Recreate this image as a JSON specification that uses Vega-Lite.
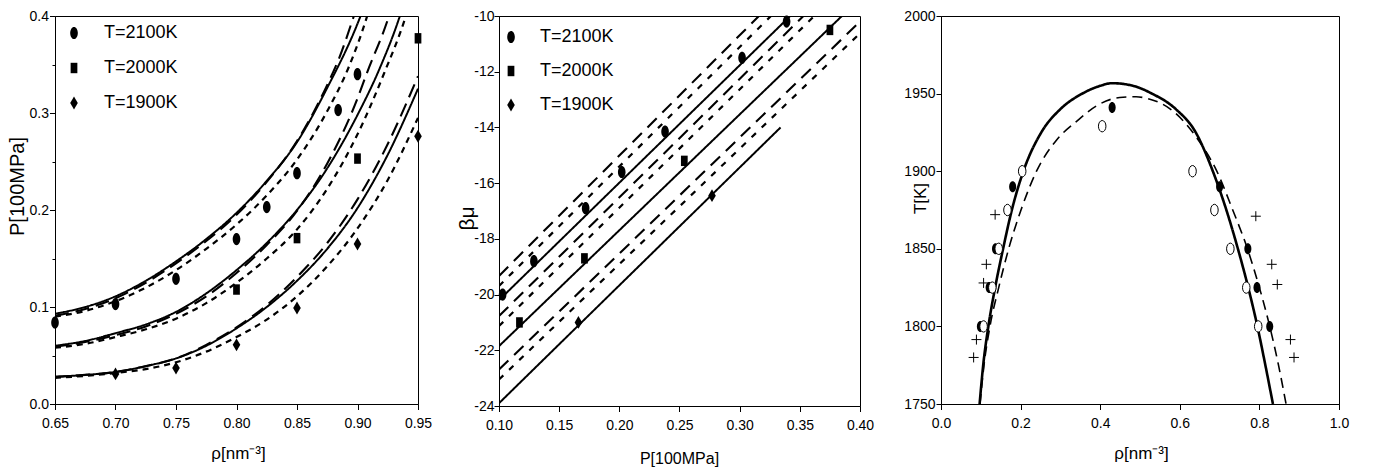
{
  "$schema": "https://vega.github.io/schema/vega-lite/v6.json",
  "background": "white",
  "padding": {"left": 6, "top": 8, "right": 5, "bottom": 0},
  "config": {
    "view": {"stroke": "black", "strokeWidth": 1},
    "axis": {"grid": false, "domainColor": "black", "tickColor": "black", "labelColor": "black", "titleColor": "black",
      "labelFont": "Liberation Sans, Arial, sans-serif", "labelFontSize": 14,
      "titleFont": "Liberation Sans, Arial, sans-serif", "titleFontSize": 18, "titleFontWeight": "normal",
      "domainWidth": 1, "tickWidth": 1, "labelFlush": false, "labelOverlap": false, "titleAlign": "center", "titleBaseline": "middle"}
  },
  "datasets": {
    "p1lines": [
      {"T":"2100","s":"solid","x":0.65,"y":0.093},{"T":"2100","s":"solid","x":0.675,"y":0.100},{"T":"2100","s":"solid","x":0.70,"y":0.111},{"T":"2100","s":"solid","x":0.725,"y":0.127},{"T":"2100","s":"solid","x":0.75,"y":0.147},{"T":"2100","s":"solid","x":0.775,"y":0.170},{"T":"2100","s":"solid","x":0.80,"y":0.197},{"T":"2100","s":"solid","x":0.825,"y":0.230},{"T":"2100","s":"solid","x":0.85,"y":0.270},{"T":"2100","s":"solid","x":0.875,"y":0.326},{"T":"2100","s":"solid","x":0.90,"y":0.392},{"T":"2100","s":"solid","x":0.91,"y":0.425},
      {"T":"2100","s":"long","x":0.65,"y":0.091},{"T":"2100","s":"long","x":0.675,"y":0.098},{"T":"2100","s":"long","x":0.70,"y":0.109},{"T":"2100","s":"long","x":0.725,"y":0.125},{"T":"2100","s":"long","x":0.75,"y":0.145},{"T":"2100","s":"long","x":0.775,"y":0.168},{"T":"2100","s":"long","x":0.80,"y":0.195},{"T":"2100","s":"long","x":0.825,"y":0.229},{"T":"2100","s":"long","x":0.85,"y":0.271},{"T":"2100","s":"long","x":0.875,"y":0.329},{"T":"2100","s":"long","x":0.885,"y":0.357},{"T":"2100","s":"long","x":0.897,"y":0.40},{"T":"2100","s":"long","x":0.905,"y":0.43},
      {"T":"2100","s":"short","x":0.65,"y":0.090},{"T":"2100","s":"short","x":0.675,"y":0.096},{"T":"2100","s":"short","x":0.70,"y":0.106},{"T":"2100","s":"short","x":0.725,"y":0.120},{"T":"2100","s":"short","x":0.75,"y":0.138},{"T":"2100","s":"short","x":0.775,"y":0.160},{"T":"2100","s":"short","x":0.80,"y":0.185},{"T":"2100","s":"short","x":0.825,"y":0.215},{"T":"2100","s":"short","x":0.85,"y":0.252},{"T":"2100","s":"short","x":0.875,"y":0.302},{"T":"2100","s":"short","x":0.893,"y":0.348},{"T":"2100","s":"short","x":0.908,"y":0.40},{"T":"2100","s":"short","x":0.915,"y":0.43},
      {"T":"2000","s":"solid","x":0.65,"y":0.060},{"T":"2000","s":"solid","x":0.675,"y":0.065},{"T":"2000","s":"solid","x":0.70,"y":0.073},{"T":"2000","s":"solid","x":0.725,"y":0.082},{"T":"2000","s":"solid","x":0.75,"y":0.095},{"T":"2000","s":"solid","x":0.775,"y":0.114},{"T":"2000","s":"solid","x":0.80,"y":0.138},{"T":"2000","s":"solid","x":0.825,"y":0.166},{"T":"2000","s":"solid","x":0.85,"y":0.200},{"T":"2000","s":"solid","x":0.875,"y":0.243},{"T":"2000","s":"solid","x":0.90,"y":0.298},{"T":"2000","s":"solid","x":0.918,"y":0.345},{"T":"2000","s":"solid","x":0.935,"y":0.40},{"T":"2000","s":"solid","x":0.94,"y":0.42},
      {"T":"2000","s":"long","x":0.65,"y":0.059},{"T":"2000","s":"long","x":0.675,"y":0.064},{"T":"2000","s":"long","x":0.70,"y":0.071},{"T":"2000","s":"long","x":0.725,"y":0.080},{"T":"2000","s":"long","x":0.75,"y":0.093},{"T":"2000","s":"long","x":0.775,"y":0.111},{"T":"2000","s":"long","x":0.80,"y":0.135},{"T":"2000","s":"long","x":0.825,"y":0.164},{"T":"2000","s":"long","x":0.85,"y":0.199},{"T":"2000","s":"long","x":0.875,"y":0.248},{"T":"2000","s":"long","x":0.90,"y":0.315},{"T":"2000","s":"long","x":0.908,"y":0.342},{"T":"2000","s":"long","x":0.926,"y":0.40},{"T":"2000","s":"long","x":0.932,"y":0.425},
      {"T":"2000","s":"short","x":0.65,"y":0.058},{"T":"2000","s":"short","x":0.675,"y":0.062},{"T":"2000","s":"short","x":0.70,"y":0.069},{"T":"2000","s":"short","x":0.725,"y":0.077},{"T":"2000","s":"short","x":0.75,"y":0.088},{"T":"2000","s":"short","x":0.775,"y":0.104},{"T":"2000","s":"short","x":0.80,"y":0.125},{"T":"2000","s":"short","x":0.825,"y":0.150},{"T":"2000","s":"short","x":0.85,"y":0.180},{"T":"2000","s":"short","x":0.875,"y":0.222},{"T":"2000","s":"short","x":0.90,"y":0.278},{"T":"2000","s":"short","x":0.922,"y":0.341},{"T":"2000","s":"short","x":0.94,"y":0.40},{"T":"2000","s":"short","x":0.946,"y":0.425},
      {"T":"1900","s":"solid","x":0.65,"y":0.028},{"T":"1900","s":"solid","x":0.675,"y":0.030},{"T":"1900","s":"solid","x":0.70,"y":0.033},{"T":"1900","s":"solid","x":0.725,"y":0.039},{"T":"1900","s":"solid","x":0.75,"y":0.047},{"T":"1900","s":"solid","x":0.775,"y":0.060},{"T":"1900","s":"solid","x":0.80,"y":0.078},{"T":"1900","s":"solid","x":0.825,"y":0.100},{"T":"1900","s":"solid","x":0.85,"y":0.127},{"T":"1900","s":"solid","x":0.875,"y":0.160},{"T":"1900","s":"solid","x":0.90,"y":0.202},{"T":"1900","s":"solid","x":0.925,"y":0.257},{"T":"1900","s":"solid","x":0.95,"y":0.325},
      {"T":"1900","s":"long","x":0.65,"y":0.028},{"T":"1900","s":"long","x":0.675,"y":0.030},{"T":"1900","s":"long","x":0.70,"y":0.033},{"T":"1900","s":"long","x":0.725,"y":0.039},{"T":"1900","s":"long","x":0.75,"y":0.047},{"T":"1900","s":"long","x":0.775,"y":0.061},{"T":"1900","s":"long","x":0.80,"y":0.079},{"T":"1900","s":"long","x":0.825,"y":0.102},{"T":"1900","s":"long","x":0.85,"y":0.131},{"T":"1900","s":"long","x":0.875,"y":0.166},{"T":"1900","s":"long","x":0.90,"y":0.211},{"T":"1900","s":"long","x":0.925,"y":0.268},{"T":"1900","s":"long","x":0.95,"y":0.338},
      {"T":"1900","s":"short","x":0.65,"y":0.027},{"T":"1900","s":"short","x":0.675,"y":0.029},{"T":"1900","s":"short","x":0.70,"y":0.032},{"T":"1900","s":"short","x":0.725,"y":0.036},{"T":"1900","s":"short","x":0.75,"y":0.043},{"T":"1900","s":"short","x":0.775,"y":0.054},{"T":"1900","s":"short","x":0.80,"y":0.069},{"T":"1900","s":"short","x":0.825,"y":0.087},{"T":"1900","s":"short","x":0.85,"y":0.111},{"T":"1900","s":"short","x":0.875,"y":0.142},{"T":"1900","s":"short","x":0.90,"y":0.181},{"T":"1900","s":"short","x":0.925,"y":0.231},{"T":"1900","s":"short","x":0.95,"y":0.295}
    ],
    "p1pts": [
      {"T":"T=2100K","x":0.65,"y":0.084},{"T":"T=2100K","x":0.70,"y":0.103},{"T":"T=2100K","x":0.75,"y":0.129},{"T":"T=2100K","x":0.80,"y":0.170},{"T":"T=2100K","x":0.825,"y":0.203},{"T":"T=2100K","x":0.85,"y":0.238},{"T":"T=2100K","x":0.884,"y":0.303},{"T":"T=2100K","x":0.90,"y":0.340},
      {"T":"T=2000K","x":0.80,"y":0.118},{"T":"T=2000K","x":0.85,"y":0.171},{"T":"T=2000K","x":0.90,"y":0.253},{"T":"T=2000K","x":0.95,"y":0.377},
      {"T":"T=1900K","x":0.70,"y":0.031},{"T":"T=1900K","x":0.75,"y":0.037},{"T":"T=1900K","x":0.80,"y":0.061},{"T":"T=1900K","x":0.85,"y":0.099},{"T":"T=1900K","x":0.90,"y":0.165},{"T":"T=1900K","x":0.95,"y":0.276}
    ],
    "p2lines": [
      {"T":"2100","s":"solid","x":0.10,"y":-20.2},{"T":"2100","s":"solid","x":0.342,"y":-10.0},
      {"T":"2100","s":"long","x":0.10,"y":-19.33},{"T":"2100","s":"long","x":0.316,"y":-10.0},
      {"T":"2100","s":"short","x":0.10,"y":-19.69},{"T":"2100","s":"short","x":0.326,"y":-10.0},
      {"T":"2000","s":"solid","x":0.10,"y":-21.85},{"T":"2000","s":"solid","x":0.385,"y":-10.0},
      {"T":"2000","s":"long","x":0.10,"y":-20.77},{"T":"2000","s":"long","x":0.353,"y":-10.0},
      {"T":"2000","s":"short","x":0.10,"y":-21.13},{"T":"2000","s":"short","x":0.362,"y":-10.0},
      {"T":"1900","s":"solid","x":0.10,"y":-23.9},{"T":"1900","s":"solid","x":0.334,"y":-14.0},
      {"T":"1900","s":"long","x":0.10,"y":-22.69},{"T":"1900","s":"long","x":0.40,"y":-10.2},
      {"T":"1900","s":"short","x":0.10,"y":-23.05},{"T":"1900","s":"short","x":0.40,"y":-10.62}
    ],
    "p2pts": [
      {"T":"T=2100K","x":0.103,"y":-20.0},{"T":"T=2100K","x":0.129,"y":-18.8},{"T":"T=2100K","x":0.172,"y":-16.9},{"T":"T=2100K","x":0.202,"y":-15.6},{"T":"T=2100K","x":0.238,"y":-14.15},{"T":"T=2100K","x":0.302,"y":-11.5},{"T":"T=2100K","x":0.339,"y":-10.2},
      {"T":"T=2000K","x":0.117,"y":-21.0},{"T":"T=2000K","x":0.171,"y":-18.7},{"T":"T=2000K","x":0.254,"y":-15.2},{"T":"T=2000K","x":0.375,"y":-10.5},
      {"T":"T=1900K","x":0.166,"y":-21.0},{"T":"T=1900K","x":0.277,"y":-16.45}
    ],
    "p3lines": [
      {"s":"solid","x":0.097,"y":1750},{"s":"solid","x":0.106,"y":1775},{"s":"solid","x":0.119,"y":1800},{"s":"solid","x":0.136,"y":1825},{"s":"solid","x":0.156,"y":1850},{"s":"solid","x":0.178,"y":1875},{"s":"solid","x":0.207,"y":1900},{"s":"solid","x":0.252,"y":1925},{"s":"solid","x":0.300,"y":1940},{"s":"solid","x":0.355,"y":1950},{"s":"solid","x":0.40,"y":1955},{"s":"solid","x":0.43,"y":1956.7},{"s":"solid","x":0.48,"y":1955.2},{"s":"solid","x":0.53,"y":1950},{"s":"solid","x":0.59,"y":1940},{"s":"solid","x":0.64,"y":1925},{"s":"solid","x":0.683,"y":1900},{"s":"solid","x":0.717,"y":1875},{"s":"solid","x":0.746,"y":1850},{"s":"solid","x":0.772,"y":1825},{"s":"solid","x":0.795,"y":1800},{"s":"solid","x":0.815,"y":1775},{"s":"solid","x":0.834,"y":1750},
      {"s":"dash","x":0.098,"y":1750},{"s":"dash","x":0.108,"y":1775},{"s":"dash","x":0.123,"y":1800},{"s":"dash","x":0.145,"y":1825},{"s":"dash","x":0.170,"y":1850},{"s":"dash","x":0.201,"y":1875},{"s":"dash","x":0.240,"y":1900},{"s":"dash","x":0.29,"y":1920},{"s":"dash","x":0.34,"y":1932},{"s":"dash","x":0.39,"y":1942},{"s":"dash","x":0.449,"y":1947.5},{"s":"dash","x":0.49,"y":1948},{"s":"dash","x":0.516,"y":1947},{"s":"dash","x":0.584,"y":1938.5},{"s":"dash","x":0.643,"y":1921.4},{"s":"dash","x":0.693,"y":1900},{"s":"dash","x":0.733,"y":1875},{"s":"dash","x":0.770,"y":1850},{"s":"dash","x":0.800,"y":1825},{"s":"dash","x":0.826,"y":1800},{"s":"dash","x":0.848,"y":1775},{"s":"dash","x":0.867,"y":1750}
    ],
    "p3filled": [
      {"x":0.43,"y":1941},{"x":0.18,"y":1890},{"x":0.70,"y":1890},{"x":0.771,"y":1850},{"x":0.794,"y":1825},{"x":0.826,"y":1800},{"x":0.137,"y":1850},{"x":0.121,"y":1825},{"x":0.099,"y":1800}
    ],
    "p3open": [
      {"x":0.405,"y":1929},{"x":0.204,"y":1900},{"x":0.167,"y":1875},{"x":0.632,"y":1900},{"x":0.687,"y":1875},{"x":0.727,"y":1850},{"x":0.767,"y":1825},{"x":0.797,"y":1800},{"x":0.145,"y":1850},{"x":0.129,"y":1825},{"x":0.107,"y":1800}
    ],
    "p3plus": [
      {"x":0.136,"y":1872},{"x":0.114,"y":1840},{"x":0.107,"y":1828},{"x":0.089,"y":1791.5},{"x":0.082,"y":1780},{"x":0.791,"y":1871},{"x":0.831,"y":1840},{"x":0.845,"y":1827},{"x":0.878,"y":1791.5},{"x":0.887,"y":1780}
    ]
  },
  "spacing": 81,
  "bounds": "flush",
  "resolve": {"scale": {"shape": "independent", "strokeDash": "independent", "strokeWidth": "independent"}, "legend": {"shape": "independent"}},
  "hconcat": [
    {
      "width": 363, "height": 388,
      "layer": [
        {
          "data": {"name": "p1lines"},
          "mark": {"type": "line", "clip": true, "color": "black", "interpolate": "monotone", "strokeCap": "butt"},
          "encoding": {
            "x": {"field": "x", "type": "quantitative", "scale": {"domain": [0.65, 0.95], "nice": false, "zero": false},
              "axis": {"title": "ρ[nm⁻³]", "values": [0.65,0.675,0.7,0.725,0.75,0.775,0.8,0.825,0.85,0.875,0.9,0.925,0.95],
                "labelExpr": "round(datum.value*200)%10==0 ? format(datum.value,'.2f') : ''",
                "tickSize": {"condition": {"test": "round(datum.value*200)%10!=0", "value": 3}, "value": 5.5},
                "labelPadding": 7, "titleX": 183, "titleY": 49, "titleFontSize": 17}},
            "y": {"field": "y", "type": "quantitative", "scale": {"domain": [0, 0.4], "nice": false, "zero": false},
              "axis": {"title": "P[100MPa]", "values": [0,0.05,0.1,0.15,0.2,0.25,0.3,0.35,0.4],
                "labelExpr": "round(datum.value*20)%2==0 ? format(datum.value,'.1f') : ''",
                "tickSize": {"condition": {"test": "round(datum.value*20)%2!=0", "value": 3}, "value": 5.5},
                "labelPadding": 1, "titleFontSize": 20, "titleX": -38, "titleY": 170}},
            "detail": {"field": "T"},
            "strokeDash": {"field": "s", "type": "nominal", "scale": {"domain": ["solid","long","short"], "range": [[1,0],[14,7],[6,5]]}, "legend": null},
            "strokeWidth": {"field": "s", "type": "nominal", "scale": {"domain": ["solid","long","short"], "range": [2,2.2,2.2]}, "legend": null}
          }
        },
        {
          "data": {"name": "p1pts"},
          "mark": {"type": "point", "filled": true, "color": "black", "opacity": 1, "size": 150},
          "encoding": {
            "x": {"field": "x", "type": "quantitative"},
            "y": {"field": "y", "type": "quantitative"},
            "shape": {"field": "T", "type": "nominal",
              "scale": {"domain": ["T=2100K","T=2000K","T=1900K"], "range": ["M0,-1A0.62,1,0,1,1,0,1A0.62,1,0,1,1,0,-1Z","M-0.55,-0.85H0.55V0.85H-0.55Z","M0,-1.05L0.62,0L0,1.05L-0.62,0Z"]},
              "legend": {"title": null, "orient": "none", "legendX": 10, "legendY": 8, "padding": 0, "labelFont": "Liberation Sans, Arial, sans-serif", "labelFontSize": 18, "labelColor": "black", "rowPadding": 17, "labelOffset": 21, "symbolFillColor": "black", "symbolStrokeColor": "black", "symbolStrokeWidth": 0, "symbolSize": 150}}
          }
        }
      ]
    },
    {
      "width": 361, "height": 390,
      "layer": [
        {
          "data": {"name": "p2lines"},
          "mark": {"type": "line", "clip": true, "color": "black", "strokeCap": "butt"},
          "encoding": {
            "x": {"field": "x", "type": "quantitative", "scale": {"domain": [0.10, 0.40], "nice": false, "zero": false},
              "axis": {"title": "P[100MPa]", "values": [0.1,0.125,0.15,0.175,0.2,0.225,0.25,0.275,0.3,0.325,0.35,0.375,0.4],
                "labelExpr": "round(datum.value*200)%10==0 ? format(datum.value,'.2f') : ''",
                "tickSize": {"condition": {"test": "round(datum.value*200)%10!=0", "value": 3}, "value": 5.5},
                "labelPadding": 7, "titleX": 180, "titleY": 52, "titleFontSize": 16}},
            "y": {"field": "y", "type": "quantitative", "scale": {"domain": [-24, -10], "nice": false, "zero": false},
              "axis": {"title": "βμ", "values": [-24,-23,-22,-21,-20,-19,-18,-17,-16,-15,-14,-13,-12,-11,-10],
                "labelExpr": "datum.value%2==0 ? ''+datum.value : ''",
                "tickSize": {"condition": {"test": "datum.value%2!=0", "value": 3}, "value": 5},
                "labelPadding": 0, "titleX": -32, "titleY": 202, "titleFontSize": 21}},
            "detail": {"field": "T"},
            "strokeDash": {"field": "s", "type": "nominal", "scale": {"domain": ["solid","long","short"], "range": [[1,0],[13,8],[6,8]]}, "legend": null},
            "strokeWidth": {"field": "s", "type": "nominal", "scale": {"domain": ["solid","long","short"], "range": [2,2.2,2.2]}, "legend": null}
          }
        },
        {
          "data": {"name": "p2pts"},
          "mark": {"type": "point", "filled": true, "color": "black", "opacity": 1, "size": 150},
          "encoding": {
            "x": {"field": "x", "type": "quantitative"},
            "y": {"field": "y", "type": "quantitative"},
            "shape": {"field": "T", "type": "nominal",
              "scale": {"domain": ["T=2100K","T=2000K","T=1900K"], "range": ["M0,-1A0.62,1,0,1,1,0,1A0.62,1,0,1,1,0,-1Z","M-0.55,-0.85H0.55V0.85H-0.55Z","M0,-1.05L0.62,0L0,1.05L-0.62,0Z"]},
              "legend": {"title": null, "orient": "none", "legendX": 3, "legendY": 12, "padding": 0, "labelFont": "Liberation Sans, Arial, sans-serif", "labelFontSize": 18, "labelColor": "black", "rowPadding": 16, "labelOffset": 20, "symbolFillColor": "black", "symbolStrokeColor": "black", "symbolStrokeWidth": 0, "symbolSize": 150}}
          }
        }
      ]
    },
    {
      "width": 398, "height": 388,
      "layer": [
        {
          "data": {"name": "p3lines"},
          "mark": {"type": "line", "clip": true, "color": "black", "interpolate": "monotone", "strokeCap": "butt"},
          "encoding": {
            "x": {"field": "x", "type": "quantitative", "scale": {"domain": [0, 1], "nice": false, "zero": false},
              "axis": {"title": "ρ[nm⁻³]", "values": [0,0.05,0.1,0.15,0.2,0.25,0.3,0.35,0.4,0.45,0.5,0.55,0.6,0.65,0.7,0.75,0.8,0.85,0.9,0.95,1],
                "labelExpr": "round(datum.value*20)%2==0 ? format(datum.value,'.1f') : ''",
                "tickSize": {"condition": {"test": "round(datum.value*20)%2!=0", "value": 3}, "value": 5.5},
                "labelPadding": 7, "titleX": 200, "titleY": 49, "titleFontSize": 17}},
            "y": {"field": "y", "type": "quantitative", "scale": {"domain": [1750, 2000], "nice": false, "zero": false},
              "axis": {"title": "T[K]", "values": [1750,1775,1800,1825,1850,1875,1900,1925,1950,1975,2000],
                "labelExpr": "datum.value%50==0 ? ''+datum.value : ''",
                "tickSize": {"condition": {"test": "datum.value%50!=0", "value": 3}, "value": 5},
                "labelPadding": 1, "titleX": -21, "titleY": 182, "titleFontSize": 17}},
            "strokeDash": {"field": "s", "type": "nominal", "scale": {"domain": ["solid","dash"], "range": [[1,0],[10,6]]}, "legend": null},
            "strokeWidth": {"field": "s", "type": "nominal", "scale": {"domain": ["solid","dash"], "range": [2.6,1.6]}, "legend": null}
          }
        },
        {
          "data": {"name": "p3plus"},
          "mark": {"type": "point", "shape": "M-1,0H1M0,-1V1", "filled": false, "color": "black", "strokeWidth": 1, "size": 100, "opacity": 1},
          "encoding": {"x": {"field": "x", "type": "quantitative"}, "y": {"field": "y", "type": "quantitative"}}
        },
        {
          "data": {"name": "p3filled"},
          "mark": {"type": "point", "shape": "M0,-1A0.64,1,0,1,1,0,1A0.64,1,0,1,1,0,-1Z", "filled": true, "color": "black", "size": 121, "opacity": 1},
          "encoding": {"x": {"field": "x", "type": "quantitative"}, "y": {"field": "y", "type": "quantitative"}}
        },
        {
          "data": {"name": "p3open"},
          "mark": {"type": "point", "shape": "M0,-1A0.66,1,0,1,1,0,1A0.66,1,0,1,1,0,-1Z", "fill": "white", "stroke": "black", "strokeWidth": 1, "size": 130, "opacity": 1, "fillOpacity": 1},
          "encoding": {"x": {"field": "x", "type": "quantitative"}, "y": {"field": "y", "type": "quantitative"}}
        }
      ]
    }
  ]
}
